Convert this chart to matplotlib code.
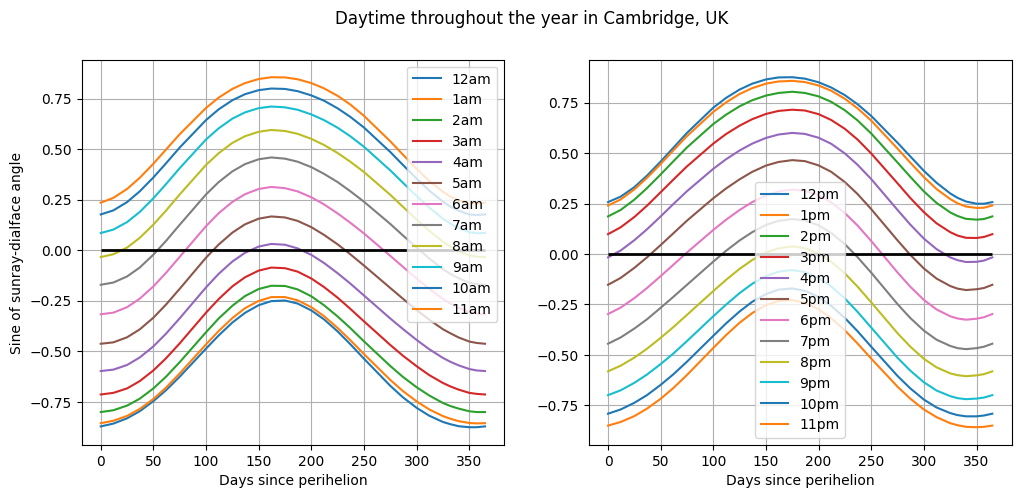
import matplotlib
matplotlib.use("Agg")
import matplotlib.pyplot as plt

days = [0, 12, 25, 37, 50, 62, 75, 100, 112, 125, 137, 150, 162, 175, 187,
        200, 212, 225, 237, 250, 275, 287, 300, 312, 325, 332, 340, 350, 357, 365]

am_labels = ["12am", "1am", "2am", "3am", "4am", "5am",
             "6am", "7am", "8am", "9am", "10am", "11am"]
pm_labels = ["12pm", "1pm", "2pm", "3pm", "4pm", "5pm",
             "6pm", "7pm", "8pm", "9pm", "10pm", "11pm"]

# sine of the sunray-dialface angle, morning hours
am_00 = [-0.872, -0.858, -0.832, -0.797, -0.747, -0.693, -0.626, -0.487, -0.422, -0.358, -0.310, -0.272, -0.252, -0.249, -0.264,
         -0.298, -0.342, -0.402, -0.465, -0.537, -0.671, -0.728, -0.780, -0.819, -0.850, -0.861, -0.871, -0.876, -0.876, -0.872]
am_01 = [-0.856, -0.844, -0.820, -0.786, -0.736, -0.680, -0.610, -0.466, -0.400, -0.336, -0.287, -0.251, -0.232, -0.232, -0.248,
         -0.282, -0.326, -0.385, -0.445, -0.514, -0.642, -0.697, -0.748, -0.788, -0.821, -0.834, -0.846, -0.855, -0.857, -0.856]
am_02 = [-0.801, -0.792, -0.769, -0.735, -0.684, -0.626, -0.554, -0.406, -0.338, -0.275, -0.227, -0.192, -0.176, -0.177, -0.194,
         -0.228, -0.272, -0.328, -0.385, -0.451, -0.573, -0.627, -0.678, -0.719, -0.756, -0.771, -0.784, -0.797, -0.801, -0.801]
am_03 = [-0.714, -0.706, -0.684, -0.648, -0.595, -0.535, -0.461, -0.309, -0.242, -0.179, -0.134, -0.101, -0.086, -0.089, -0.106,
         -0.140, -0.182, -0.235, -0.290, -0.352, -0.469, -0.522, -0.574, -0.618, -0.657, -0.674, -0.690, -0.706, -0.711, -0.714]
am_04 = [-0.598, -0.591, -0.568, -0.531, -0.476, -0.413, -0.337, -0.184, -0.117, -0.056, -0.013, 0.018, 0.031, 0.027, 0.009,
         -0.023, -0.063, -0.114, -0.165, -0.224, -0.338, -0.390, -0.444, -0.490, -0.533, -0.552, -0.570, -0.588, -0.595, -0.598]
am_05 = [-0.463, -0.456, -0.431, -0.392, -0.334, -0.269, -0.191, -0.037, 0.028, 0.087, 0.128, 0.156, 0.167, 0.162, 0.145,
         0.114, 0.076, 0.029, -0.020, -0.076, -0.187, -0.240, -0.296, -0.344, -0.391, -0.411, -0.432, -0.452, -0.459, -0.463]
am_06 = [-0.317, -0.309, -0.282, -0.240, -0.179, -0.112, -0.033, 0.119, 0.183, 0.239, 0.277, 0.303, 0.313, 0.307, 0.291,
         0.262, 0.227, 0.182, 0.136, 0.083, -0.028, -0.082, -0.140, -0.191, -0.241, -0.263, -0.285, -0.306, -0.313, -0.317]
am_07 = [-0.171, -0.160, -0.130, -0.086, -0.022, 0.046, 0.126, 0.276, 0.337, 0.390, 0.426, 0.450, 0.459, 0.453, 0.438,
         0.411, 0.378, 0.337, 0.292, 0.240, 0.130, 0.073, 0.013, -0.041, -0.094, -0.117, -0.139, -0.161, -0.168, -0.171]
am_08 = [-0.034, -0.020, 0.013, 0.061, 0.127, 0.196, 0.276, 0.422, 0.480, 0.531, 0.564, 0.586, 0.595, 0.590, 0.576,
         0.551, 0.521, 0.481, 0.438, 0.387, 0.274, 0.215, 0.152, 0.096, 0.042, 0.018, -0.005, -0.026, -0.032, -0.034]
am_09 = [0.085, 0.102, 0.139, 0.189, 0.257, 0.327, 0.406, 0.548, 0.603, 0.651, 0.682, 0.703, 0.711, 0.707, 0.695,
         0.672, 0.644, 0.606, 0.564, 0.512, 0.395, 0.334, 0.268, 0.211, 0.156, 0.132, 0.109, 0.089, 0.084, 0.085]
am_10 = [0.177, 0.197, 0.238, 0.291, 0.360, 0.430, 0.508, 0.644, 0.697, 0.742, 0.772, 0.792, 0.800, 0.798, 0.787,
         0.766, 0.740, 0.702, 0.660, 0.607, 0.486, 0.422, 0.354, 0.295, 0.240, 0.216, 0.195, 0.177, 0.174, 0.177]
am_11 = [0.235, 0.259, 0.303, 0.358, 0.428, 0.498, 0.574, 0.704, 0.755, 0.798, 0.827, 0.847, 0.856, 0.855, 0.846,
         0.827, 0.801, 0.764, 0.721, 0.665, 0.539, 0.473, 0.403, 0.343, 0.289, 0.266, 0.246, 0.232, 0.230, 0.235]

# afternoon / evening hours
pm_12 = [0.257, 0.284, 0.331, 0.388, 0.458, 0.526, 0.600, 0.725, 0.773, 0.815, 0.844, 0.865, 0.875, 0.876, 0.869,
         0.851, 0.825, 0.787, 0.742, 0.684, 0.551, 0.484, 0.412, 0.353, 0.300, 0.278, 0.260, 0.249, 0.249, 0.257]
pm_01 = [0.240, 0.270, 0.320, 0.377, 0.446, 0.513, 0.584, 0.704, 0.751, 0.793, 0.822, 0.844, 0.855, 0.858, 0.852,
         0.835, 0.809, 0.769, 0.722, 0.661, 0.522, 0.453, 0.381, 0.322, 0.272, 0.251, 0.235, 0.228, 0.229, 0.240]
pm_02 = [0.186, 0.218, 0.269, 0.326, 0.394, 0.459, 0.528, 0.644, 0.690, 0.732, 0.762, 0.785, 0.798, 0.804, 0.798,
         0.781, 0.754, 0.712, 0.662, 0.597, 0.453, 0.383, 0.310, 0.253, 0.206, 0.188, 0.174, 0.170, 0.173, 0.186]
pm_03 = [0.098, 0.132, 0.183, 0.239, 0.306, 0.368, 0.434, 0.547, 0.594, 0.636, 0.668, 0.694, 0.709, 0.715, 0.711,
         0.693, 0.664, 0.620, 0.567, 0.498, 0.350, 0.278, 0.207, 0.152, 0.108, 0.091, 0.080, 0.079, 0.084, 0.098]
pm_04 = [-0.017, 0.017, 0.068, 0.122, 0.186, 0.247, 0.311, 0.422, 0.469, 0.513, 0.547, 0.575, 0.592, 0.600, 0.595,
         0.576, 0.546, 0.498, 0.442, 0.371, 0.218, 0.146, 0.076, 0.024, -0.017, -0.031, -0.040, -0.039, -0.033, -0.017]
pm_05 = [-0.153, -0.119, -0.069, -0.017, 0.044, 0.102, 0.165, 0.276, 0.324, 0.370, 0.407, 0.438, 0.456, 0.465, 0.460,
         0.439, 0.407, 0.356, 0.297, 0.222, 0.067, -0.004, -0.072, -0.122, -0.159, -0.172, -0.179, -0.175, -0.169, -0.153]
pm_06 = [-0.298, -0.266, -0.219, -0.169, -0.110, -0.054, 0.007, 0.119, 0.169, 0.218, 0.257, 0.290, 0.310, 0.319, 0.313,
         0.291, 0.256, 0.202, 0.141, 0.064, -0.092, -0.162, -0.228, -0.275, -0.309, -0.320, -0.326, -0.321, -0.314, -0.298]
pm_07 = [-0.445, -0.414, -0.370, -0.324, -0.267, -0.213, -0.153, -0.038, 0.015, 0.067, 0.108, 0.144, 0.164, 0.173, 0.166,
         0.142, 0.104, 0.048, -0.016, -0.093, -0.249, -0.317, -0.380, -0.425, -0.456, -0.467, -0.472, -0.467, -0.460, -0.445]
pm_08 = [-0.582, -0.554, -0.514, -0.470, -0.416, -0.363, -0.302, -0.184, -0.129, -0.074, -0.030, 0.007, 0.028, 0.037, 0.029,
         0.002, -0.038, -0.097, -0.162, -0.240, -0.393, -0.459, -0.520, -0.562, -0.592, -0.601, -0.606, -0.602, -0.596, -0.582]
pm_09 = [-0.700, -0.676, -0.639, -0.598, -0.546, -0.494, -0.432, -0.309, -0.252, -0.194, -0.148, -0.110, -0.088, -0.080, -0.090,
         -0.119, -0.161, -0.221, -0.287, -0.365, -0.515, -0.578, -0.636, -0.677, -0.705, -0.715, -0.720, -0.717, -0.712, -0.700]
pm_10 = [-0.792, -0.771, -0.738, -0.700, -0.649, -0.597, -0.534, -0.406, -0.345, -0.285, -0.237, -0.199, -0.177, -0.171, -0.183,
         -0.213, -0.257, -0.318, -0.383, -0.460, -0.605, -0.666, -0.722, -0.761, -0.789, -0.799, -0.805, -0.805, -0.801, -0.792]
pm_11 = [-0.851, -0.833, -0.804, -0.767, -0.718, -0.665, -0.600, -0.466, -0.403, -0.341, -0.293, -0.254, -0.233, -0.229, -0.242,
         -0.274, -0.319, -0.379, -0.444, -0.519, -0.658, -0.717, -0.771, -0.809, -0.839, -0.849, -0.857, -0.859, -0.857, -0.851]

am_series = [am_00, am_01, am_02, am_03, am_04, am_05, am_06, am_07, am_08, am_09, am_10, am_11]
pm_series = [pm_12, pm_01, pm_02, pm_03, pm_04, pm_05, pm_06, pm_07, pm_08, pm_09, pm_10, pm_11]


fig, (ax1, ax2) = plt.subplots(1, 2, figsize=(12, 5))
fig.suptitle("Daytime throughout the year in Cambridge, UK")

for ax, series, labels, where in ((ax1, am_series, am_labels, "upper right"),
                                  (ax2, pm_series, pm_labels, "lower center")):
	for vals, lab in zip(series, labels):
		ax.plot(days, vals, label=lab)
	ax.hlines(0, days[0], days[-1], colors="k", linewidth=2)
	ax.grid(True)
	ax.set_xlabel("Days since perihelion")
	ax.legend(loc=where)

ax1.set_ylabel("Sine of sunray-dialface angle")

fig.savefig("out.png", dpi=100, bbox_inches="tight")
